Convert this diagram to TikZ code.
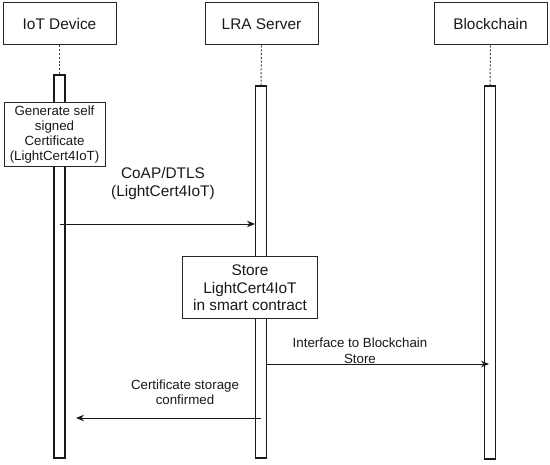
\documentclass[tikz,border=0pt]{standalone}
\usepackage{fontspec}
\setmainfont{Liberation Sans}
\usetikzlibrary{arrows.meta}
\begin{document}
\begin{tikzpicture}[x=1pt,y=-1pt,
  header/.style={draw=black!85, line width=1pt, minimum width=113pt, minimum height=42pt, inner sep=0pt, font=\fontsize{15.4}{18}\selectfont, text=black!90},
  bar/.style={draw=black!90, line width=1.1pt, fill=white, inner sep=0pt, minimum width=11pt},
  actbox/.style={draw=black!85, line width=1pt, fill=white, inner sep=0pt, align=center, text=black!90},
  life/.style={draw=black!75, line width=1pt, dash pattern=on 2pt off 1.8pt},
  msg/.style={draw=black!90, line width=0.9pt, -{Stealth[length=8pt,width=6.5pt]}},
  lbl/.style={align=center, text=black!90, inner sep=0pt},
  big/.style={font=\fontsize{15.4}{18}\selectfont},
  small/.style={font=\fontsize{13.3}{15}\selectfont}]
\useasboundingbox (0,0) rectangle (550,465);
\fill[white] (0,0) rectangle (550,465);

% headers
\node[header] (iot) at (59.5,24) {IoT Device};
\node[header] (lra) at (261.5,24) {LRA Server};
\node[header] (bc) at (490.5,24) {Blockchain};

% activation bars
\node[bar, minimum height=383pt] (bar1) at (59.5,266.5) {};
\node[bar, minimum height=372pt] (bar2) at (261,272) {};
\node[bar, minimum height=373pt] (bar3) at (490,272.5) {};

% lifelines
\draw[life] (iot.south) -- (bar1.north);
\draw[life] (lra.south) -- (bar2.north);
\draw[life] (bc.south) -- (bar3.north);

% activity boxes
\node[actbox, small, minimum width=101pt, minimum height=64pt] (gen) at (54.5,134.5)
  {Generate self\\signed\\Certificate\\(LightCert4IoT)};
\node[actbox, big, minimum width=135pt, minimum height=62pt, font=\fontsize{15.4}{17.3}\selectfont] (store) at (250,288)
  {Store\\LightCert4IoT\\in smart contract};

% messages
\coordinate (m1s) at (bar1.center |- 0,224);
\coordinate (m1e) at (bar2.west |- 0,224);
\draw[msg] (m1s) -- (m1e);
\node[lbl, big] (l1) at (163,184) {CoAP/DTLS\\(LightCert4IoT)};

\coordinate (m2s) at (bar2.east |- 0,364);
\coordinate (m2e) at (489,364);
\draw[msg] (m2s) -- (m2e);
\node[lbl, small, font=\fontsize{13.3}{16}\selectfont] (l2) at (360,351) {Interface to Blockchain\\Store};

\coordinate (m3s) at (bar2.center |- 0,418);
\coordinate (m3e) at (76,418);
\draw[msg] (m3s) -- (m3e);
\node[lbl, small] (l3) at (185,392) {Certificate storage\\confirmed};
\end{tikzpicture}
\end{document}
